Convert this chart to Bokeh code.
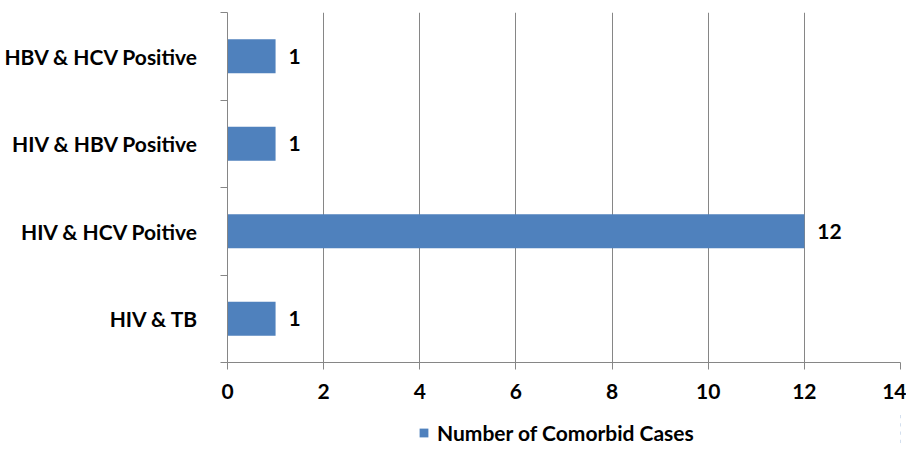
from bokeh.plotting import figure
from bokeh.layouts import column
from bokeh.models import Range1d, FixedTicker, Legend, LegendItem
from bokeh.core.properties import value
from bokeh.embed import file_html
from bokeh.resources import INLINE

categories = ["HIV & TB", "HIV & HCV Poitive", "HIV & HBV Positive", "HBV & HCV Positive"]
counts = [1, 12, 1, 1]
series_name = "Number of Comorbid Cases"
x_ticks = [0, 2, 4, 6, 8, 10, 12, 14]

FONT = "Lato"
FS = "21px"
GRAY = "#868686"
BAR = "#4F81BD"

positions = [i + 0.5 for i in range(len(categories))]
bounds = [i for i in range(len(categories) + 1)]

p = figure(width=906, height=412, x_range=Range1d(0, 14), y_range=Range1d(0, len(categories)),
           output_backend="svg", toolbar_location=None,
           min_border_left=227, min_border_right=6, min_border_top=12, min_border_bottom=50)
p.outline_line_color = None
p.background_fill_color = "white"

r = p.hbar(y=positions, right=counts, left=0, height=0.39, fill_color=BAR, line_color=None)

p.text(x=counts, y=positions, text=[str(c) for c in counts], x_offset=13,
       text_align="left", text_baseline="middle", text_color="black",
       text_font=value(FONT), text_font_style="bold", text_font_size=FS)

xa = p.xaxis[0]
xa.ticker = FixedTicker(ticks=x_ticks, minor_ticks=[])
xa.axis_line_color = GRAY
xa.major_tick_line_color = GRAY
xa.major_tick_out = 7
xa.major_tick_in = 0
xa.minor_tick_out = 0
xa.major_label_standoff = 14
xa.major_label_text_font = FONT
xa.major_label_text_font_style = "bold"
xa.major_label_text_font_size = FS
xa.major_label_text_color = "black"

ya = p.yaxis[0]
ya.ticker = FixedTicker(ticks=positions, minor_ticks=bounds)
ya.major_label_overrides = {pos: cat for pos, cat in zip(positions, categories)}
ya.axis_line_color = GRAY
ya.major_tick_line_color = None
ya.major_tick_out = 0
ya.major_tick_in = 0
ya.minor_tick_line_color = GRAY
ya.minor_tick_out = 7
ya.minor_tick_in = 0
ya.major_label_standoff = 22
ya.major_label_text_font = FONT
ya.major_label_text_font_style = "bold"
ya.major_label_text_font_size = FS
ya.major_label_text_color = "black"

p.xgrid.grid_line_color = GRAY
p.xgrid.grid_line_width = 1
p.ygrid.grid_line_color = None

# Legend strip below the chart (its own small figure, same series styling)
pl = figure(width=906, height=33, x_range=Range1d(-2, -1), y_range=Range1d(0, len(categories)),
            output_backend="svg", toolbar_location=None, min_border=0)
pl.xaxis.visible = False
pl.yaxis.visible = False
pl.xgrid.visible = False
pl.ygrid.visible = False
pl.outline_line_color = None
rl = pl.hbar(y=positions, right=counts, left=0, height=0.39, fill_color=BAR, line_color=None)

legend = Legend(items=[LegendItem(label=series_name, renderers=[rl])],
                location=(191, 0), orientation="horizontal",
                background_fill_alpha=0, border_line_alpha=0,
                glyph_width=11, glyph_height=11, label_standoff=8,
                padding=0, margin=0,
                label_text_font=FONT, label_text_font_style="bold",
                label_text_font_size=FS, label_text_color="black")
pl.add_layout(legend)

layout = column(p, pl, spacing=0)
open("out.html", "w").write(file_html(layout, INLINE))
